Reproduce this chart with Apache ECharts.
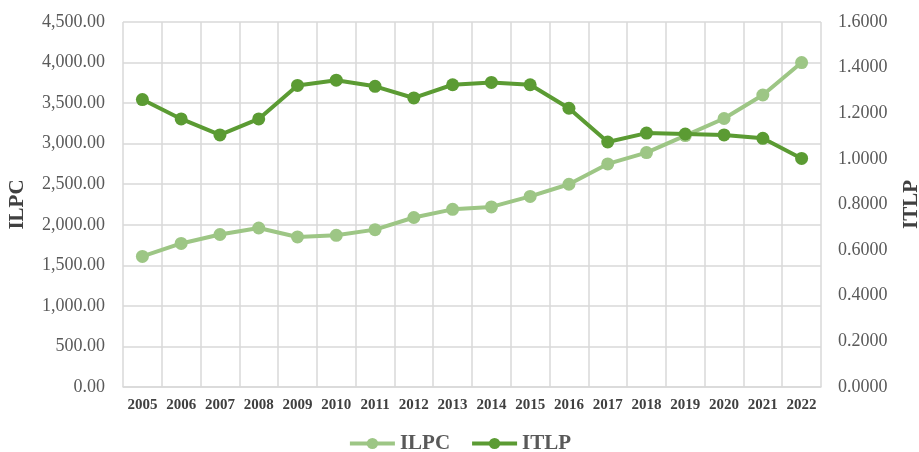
<!DOCTYPE html>
<html>
<head>
<meta charset="utf-8">
<script src="https://cdn.jsdelivr.net/npm/echarts@6/dist/echarts.min.js"></script>
<style>
    html, body { margin: 0; padding: 0; background: #fff; }
    #chart { width: 919px; height: 452px; }
</style>
</head>
<body>
<div id="chart"></div>
<script>
var years = ['2005', '2006', '2007', '2008', '2009', '2010', '2011', '2012', '2013',
    '2014', '2015', '2016', '2017', '2018', '2019', '2020', '2021', '2022'];
var ilpc = [1610, 1770, 1880, 1960, 1850, 1870, 1940, 2090, 2190,
    2220, 2350, 2500, 2750, 2890, 3100, 3310, 3600, 4000];
var itlp = [1.26, 1.175, 1.105, 1.175, 1.322, 1.345, 1.318, 1.267, 1.325,
    1.335, 1.325, 1.222, 1.074, 1.113, 1.109, 1.105, 1.090, 1.002];
var seriesNames = ['ILPC', 'ITLP'];
var colors = ['#9DC685', '#5B9B33'];

var chart = echarts.init(document.getElementById('chart'));
var serif = '"Liberation Serif", "Times New Roman", serif';

function lineSeries(name, data, axisIdx, color) {
    return {
        name: name,
        type: 'line',
        yAxisIndex: axisIdx,
        data: data,
        symbol: 'circle',
        symbolSize: 13,
        lineStyle: { width: 4, color: color },
        itemStyle: { color: color },
        z: axisIdx === 1 ? 3 : 2
    };
}

chart.setOption({
    animation: false,
    color: colors,
    grid: { left: 123, right: 98, top: 22, bottom: 65, containLabel: false, outerBoundsMode: 'none' },
    legend: {
        bottom: -7,
        left: 'center',
        itemWidth: 45,
        itemHeight: 14,
        itemGap: 20,
        data: seriesNames,
        lineStyle: { width: 4 },
        textStyle: { fontFamily: serif, fontSize: 21, fontWeight: 'bold', color: '#595959' }
    },
    xAxis: {
        type: 'category',
        data: years,
        boundaryGap: true,
        axisLine: { lineStyle: { color: '#d9d9d9', width: 1.5 } },
        axisTick: { show: false },
        splitLine: { show: true, lineStyle: { color: '#d9d9d9', width: 1.5 } },
        axisLabel: { fontFamily: serif, fontSize: 15, fontWeight: 'bold', color: '#404040', margin: 11, interval: 0 }
    },
    yAxis: [
        {
            type: 'value',
            min: 0, max: 4500, interval: 500,
            name: 'ILPC',
            nameLocation: 'middle',
            nameRotate: 90,
            nameGap: 95,
            nameTextStyle: { fontFamily: serif, fontSize: 21, fontWeight: 'bold', color: '#404040' },
            axisLine: { show: false },
            axisTick: { show: false },
            splitLine: { lineStyle: { color: '#d9d9d9', width: 1.5 } },
            axisLabel: {
                fontFamily: serif, fontSize: 18, color: '#595959', margin: 18,
                formatter: function (v) {
                    return v.toLocaleString('en-US', { minimumFractionDigits: 2, maximumFractionDigits: 2 });
                }
            }
        },
        {
            type: 'value',
            min: 0, max: 1.6, interval: 0.2,
            name: 'ITLP',
            nameLocation: 'middle',
            nameRotate: 90,
            nameGap: 80,
            nameTextStyle: { fontFamily: serif, fontSize: 21, fontWeight: 'bold', color: '#404040' },
            axisLine: { show: false },
            axisTick: { show: false },
            splitLine: { show: false },
            axisLabel: {
                fontFamily: serif, fontSize: 18, color: '#595959', margin: 17,
                formatter: function (v) { return v.toFixed(4); }
            }
        }
    ],
    series: [
        lineSeries(seriesNames[0], ilpc, 0, colors[0]),
        lineSeries(seriesNames[1], itlp, 1, colors[1])
    ]
});
</script>
</body>
</html>
